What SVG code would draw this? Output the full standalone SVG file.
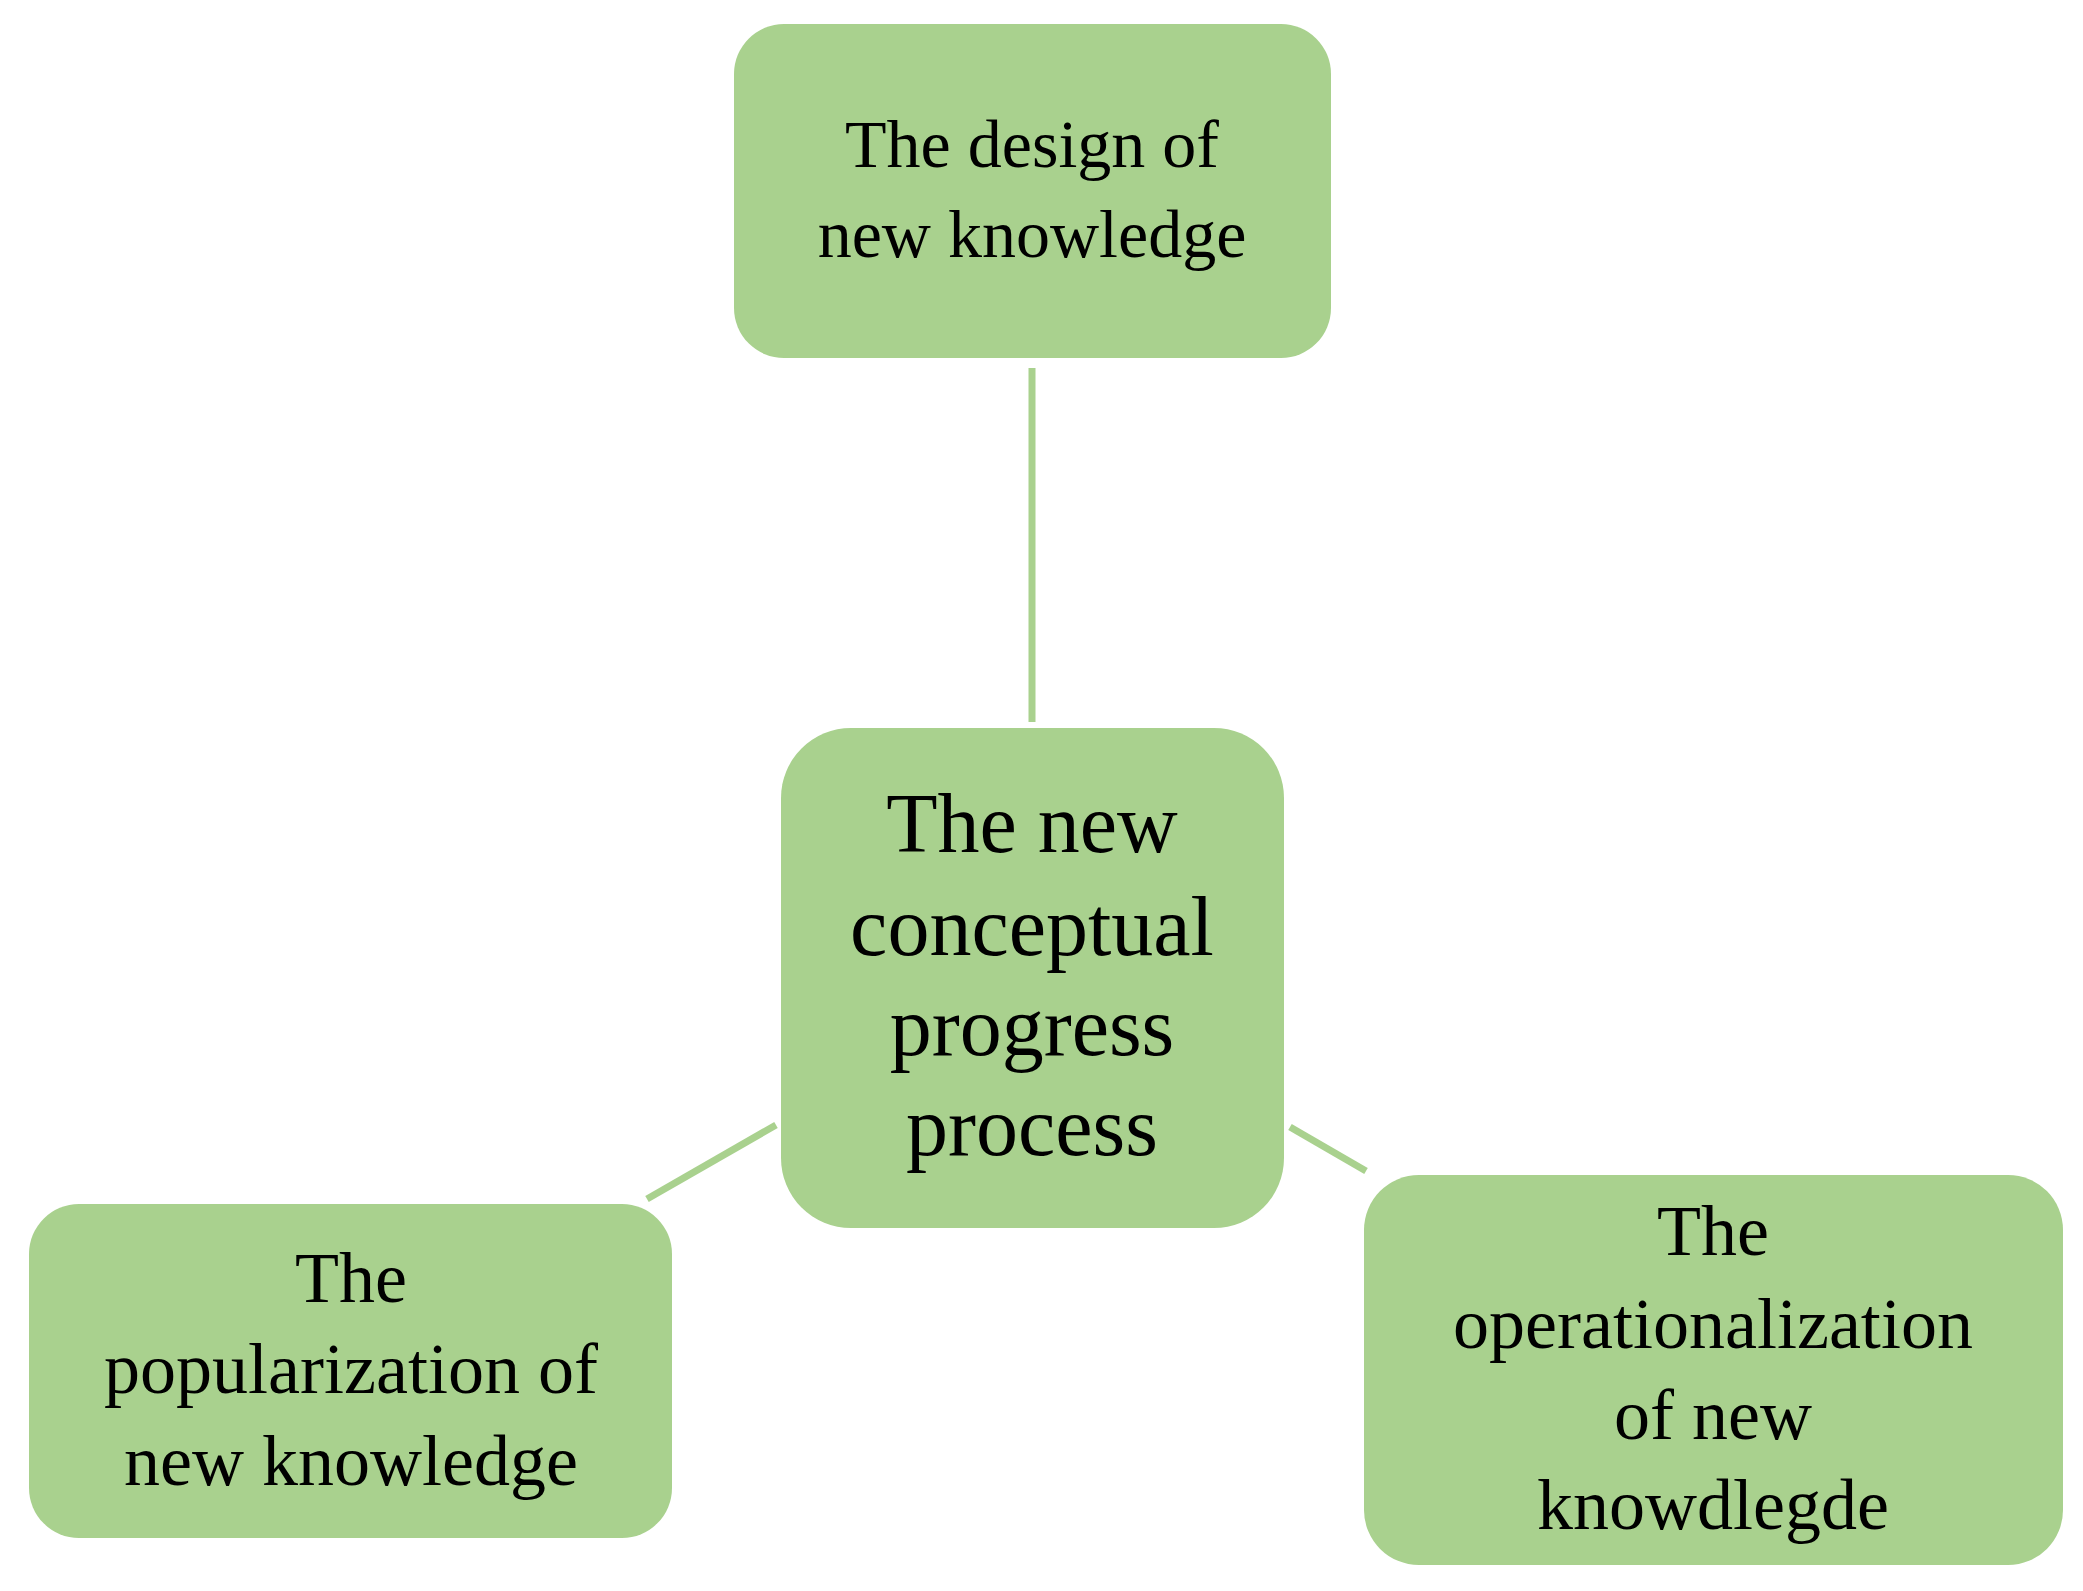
<svg xmlns="http://www.w3.org/2000/svg" width="2083" height="1591" viewBox="0 0 2083 1591">
<style>
.box{fill:#a9d18e}
.ln{stroke:#a9d18e;stroke-width:7;fill:none}
text{font-family:"Liberation Serif",serif;fill:#000;text-anchor:middle}
.s{font-size:68px}
.m{font-size:72px}
.l{font-size:84px}
</style>
<rect width="2083" height="1591" fill="#fff"/>
<g id="connectors">
<line class="ln" x1="1032" y1="368" x2="1032" y2="722"/>
<line class="ln" x1="647" y1="1199" x2="776" y2="1125"/>
<line class="ln" x1="1290" y1="1127" x2="1366" y2="1171"/>
</g>
<g id="top">
<rect class="box" x="734" y="24" width="597" height="334" rx="50"/>
<text class="s" x="1032" y="167">The design of</text>
<text class="s" x="1032" y="257">new knowledge</text>
</g>
<g id="center">
<rect class="box" x="781" y="728" width="503" height="500" rx="70"/>
<text class="l" x="1032" y="852">The new</text>
<text class="l" x="1032" y="955">conceptual</text>
<text class="l" x="1032" y="1055">progress</text>
<text class="l" x="1032" y="1155">process</text>
</g>
<g id="left">
<rect class="box" x="29" y="1204" width="643" height="334" rx="50"/>
<text class="m" x="351" y="1302">The</text>
<text class="m" x="351" y="1393">popularization of</text>
<text class="m" x="351" y="1485">new knowledge</text>
</g>
<g id="right">
<rect class="box" x="1364" y="1175" width="699" height="390" rx="55"/>
<text class="m" x="1713" y="1255">The</text>
<text class="m" x="1713" y="1348">operationalization</text>
<text class="m" x="1713" y="1439">of new</text>
<text class="m" x="1713" y="1529">knowdlegde</text>
</g>
</svg>
